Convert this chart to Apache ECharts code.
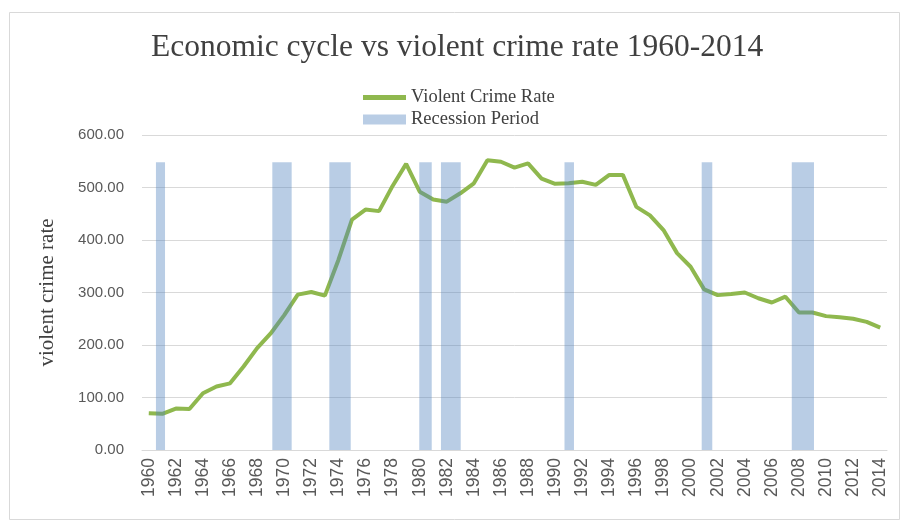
<!DOCTYPE html>
<html>
<head>
<meta charset="utf-8">
<script src="https://cdn.jsdelivr.net/npm/echarts@6/dist/echarts.min.js"></script>
<style>
  html, body { margin: 0; padding: 0; background: #ffffff; }
  #chart { width: 905px; height: 522px; }
</style>
</head>
<body>
<div id="chart"></div>
<script>
// 年份
const years = [
  '1960', '1961', '1962', '1963', '1964', '1965', '1966', '1967', '1968', '1969',
  '1970', '1971', '1972', '1973', '1974', '1975', '1976', '1977', '1978', '1979',
  '1980', '1981', '1982', '1983', '1984', '1985', '1986', '1987', '1988', '1989',
  '1990', '1991', '1992', '1993', '1994', '1995', '1996', '1997', '1998', '1999',
  '2000', '2001', '2002', '2003', '2004', '2005', '2006', '2007', '2008', '2009',
  '2010', '2011', '2012', '2013', '2014'
]

// 暴力犯罪率
const crimeRate = [
  70, 69, 79, 78, 108, 121, 127, 159, 194, 222,
  257, 296, 301, 294, 362, 439, 458, 455, 503, 545,
  492, 477, 473, 489, 508, 552, 549, 538, 546, 517,
  507, 508, 511, 505, 524, 524, 463, 447, 419, 375,
  349, 306, 295, 297, 300, 289, 281, 292, 262, 262,
  255, 253, 250, 244, 233
]

// 衰退期（小数年份）
const recessionStart = [1960.53, 1969.12, 1973.33, 1979.97, 1981.57, 1990.69, 2000.82, 2007.47]
const recessionEnd = [1961.20, 1970.55, 1974.91, 1980.89, 1983.03, 1991.39, 2001.60, 2009.11]
const recessionHeight = [548, 548, 548, 548, 548, 548, 548, 548]

const recessionData = recessionStart.map((s, i) => [s, recessionEnd[i], recessionHeight[i]])

const chart = echarts.init(document.getElementById('chart'))

const serif = '"Liberation Serif", "DejaVu Serif", serif'
const sans = '"Liberation Sans", Arial, sans-serif'

const option = {
  backgroundColor: '#ffffff',
  animation: false,
  graphic: [
    {
      type: 'rect',
      left: 7,
      top: 10,
      shape: { width: 890, height: 507 },
      style: { fill: 'none', stroke: '#d9d9d9', lineWidth: 1 },
      silent: true
    }
  ],
  title: {
    text: 'Economic cycle vs violent crime rate 1960-2014',
    left: 146,
    top: 27,
    textStyle: {
      fontFamily: serif,
      fontSize: 31.5,
      fontWeight: 'normal',
      color: '#404040'
    }
  },
  legend: [
    {
      data: [{ name: 'Violent Crime Rate', icon: 'rect' }],
      left: 358,
      top: 83,
      itemWidth: 43,
      itemHeight: 5,
      selectedMode: false,
      textStyle: { fontFamily: serif, fontSize: 18.5, color: '#404040' }
    },
    {
      data: [{ name: 'Recession Period', icon: 'rect' }],
      left: 358,
      top: 105,
      itemWidth: 43,
      itemHeight: 10,
      selectedMode: false,
      textStyle: { fontFamily: serif, fontSize: 18.5, color: '#404040' }
    }
  ],
  grid: {
    left: 142,
    right: 18,
    top: 135,
    bottom: 72
  },
  xAxis: [
    {
      type: 'category',
      data: years,
      boundaryGap: true,
      axisLine: { lineStyle: { color: '#d9d9d9' } },
      axisTick: { show: false },
      axisLabel: {
        interval: 1,
        rotate: 90,
        margin: 8,
        color: '#595959',
        fontFamily: sans,
        fontSize: 17.5
      }
    },
    {
      // 隐藏的数值轴，用于画衰退期色块
      type: 'value',
      min: 1959.5,
      max: 2014.5,
      show: false
    }
  ],
  yAxis: {
    type: 'value',
    min: 0,
    max: 600,
    interval: 100,
    name: 'violent crime rate',
    nameLocation: 'middle',
    nameGap: 84,
    nameTextStyle: { fontFamily: serif, fontSize: 21, color: '#404040' },
    axisLine: { show: false },
    axisTick: { show: false },
    axisLabel: {
      margin: 18,
      color: '#595959',
      fontFamily: sans,
      fontSize: 15,
      formatter: function (value) {
        return value.toFixed(2)
      }
    },
    splitLine: { lineStyle: { color: '#d9d9d9' } }
  },
  series: [
    {
      name: 'Violent Crime Rate',
      type: 'line',
      data: crimeRate,
      symbol: 'none',
      z: 2,
      lineStyle: { width: 4, color: '#8fb84e' },
      itemStyle: { color: '#8fb84e' }
    },
    {
      name: 'Recession Period',
      type: 'custom',
      xAxisIndex: 1,
      yAxisIndex: 0,
      z: 3,
      data: recessionData,
      encode: { x: [0, 1], y: 2 },
      itemStyle: { color: 'rgba(79, 129, 189, 0.4)' },
      renderItem: function (params, api) {
        const p0 = api.coord([api.value(0), api.value(2)])
        const p1 = api.coord([api.value(1), 0])
        return {
          type: 'rect',
          shape: { x: p0[0], y: p0[1], width: p1[0] - p0[0], height: p1[1] - p0[1] },
          style: api.style()
        }
      }
    }
  ]
}

chart.setOption(option)
</script>
</body>
</html>
